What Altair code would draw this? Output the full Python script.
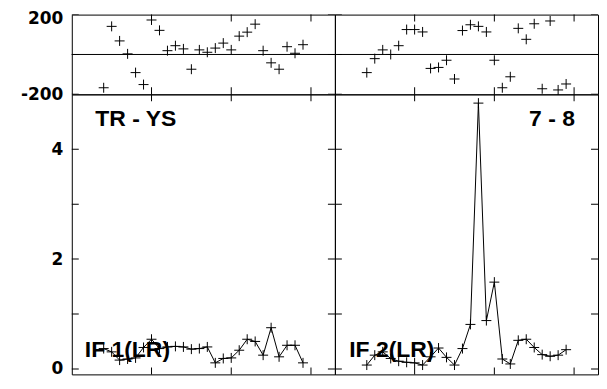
import altair as alt
import pandas as pd

# ---- data ----
channels = list(range(4, 30))

phase_tr_ys = [-167, 141, 68, 3, -91, -151, 173, 121, 19, 44, 28, -74, 23,
               11, 32, 57, 23, 92, 112, 152, 19, -42, -74, 39, 6, 49]
amp_tr_ys = [0.37, 0.31, 0.16, 0.18, 0.20, 0.39, 0.54, 0.37, 0.40, 0.41, 0.40,
             0.36, 0.37, 0.40, 0.11, 0.19, 0.20, 0.34, 0.54, 0.50, 0.25, 0.75,
             0.22, 0.43, 0.43, 0.11]

phase_7_8 = [-91, -21, 23, 0, 44, 125, 125, 113, -70, -65, -29, -123, 120,
             149, 141, 113, -29, -167, -112, 131, 76, 154, -172, 168, -178, -148]
amp_7_8 = [0.07, 0.25, 0.31, 0.19, 0.14, 0.12, 0.11, 0.07, 0.22, 0.38, 0.21,
           0.07, 0.37, 0.81, 4.84, 0.88, 1.58, 0.18, 0.09, 0.52, 0.54, 0.39,
           0.26, 0.23, 0.25, 0.35]

baseline_labels = ["TR - YS", "7 - 8"]
if_labels = ["IF 1(LR)", "IF 2(LR)"]

x_ticks = [10, 20, 30]
phase_ticks = [-200, 0, 200]
phase_labels = [-200, 200]
amp_ticks = [0, 1, 2, 3, 4]
amp_labels = [0, 2, 4]

# ---- layout constants ----
W = 264
H_TOP = 80
H_BOT = 281
X_DOM = [0, 33]
P_DOM = [-200, 200]
A_DOM = [-0.1, 5.0]
CROSS = "M-1,0L1,0M0,-1L0,1"
TICK = 7


def xscale():
    return alt.Scale(domain=X_DOM, nice=False, zero=False)


def label_axis(values, label_expr=None, label_offset=None):
    kw = dict(orient="left", values=values, title=None, domain=False,
              grid=False, ticks=False, labels=True,
              labelFont="DejaVu Sans", labelFontWeight="bold",
              labelFontSize=17, labelColor="black", labelPadding=9)
    if label_expr is not None:
        kw["labelExpr"] = label_expr
    if label_offset is not None:
        kw["labelOffset"] = label_offset
    return alt.Axis(**kw)


def edge_ticks(ycol, ysc, ydom, yvals):
    n = len(yvals)
    hdf = pd.DataFrame({"ch": [X_DOM[0]] * n + [X_DOM[1]] * n,
                        ycol: list(yvals) + list(yvals)})
    m = len(x_ticks)
    vdf = pd.DataFrame({"ch": list(x_ticks) + list(x_ticks),
                        ycol: [ydom[1]] * m + [ydom[0]] * m})
    h = alt.Chart(hdf).mark_tick(orient="horizontal", size=2 * TICK,
                                 thickness=1, color="black", opacity=1,
                                 clip=True).encode(
        x=alt.X("ch:Q", scale=xscale(), axis=None),
        y=alt.Y(f"{ycol}:Q", scale=ysc, axis=None))
    v = alt.Chart(vdf).mark_tick(orient="vertical", size=2 * TICK,
                                 thickness=1, color="black", opacity=1,
                                 clip=True).encode(
        x=alt.X("ch:Q", scale=xscale(), axis=None),
        y=alt.Y(f"{ycol}:Q", scale=ysc, axis=None))
    return [h, v]


def phase_panel(vals, show_labels):
    df = pd.DataFrame({"ch": channels, "phase": vals})
    ysc = alt.Scale(domain=P_DOM, nice=False, zero=False)
    zero = pd.DataFrame({"phase": [0]})
    if show_labels:
        yax = label_axis(phase_labels,
                         label_expr="(datum.value < 0 ? '-' : '') + abs(datum.value)",
                         label_offset={"condition": {"test": "datum.value == 200", "value": 4}, "value": 0})
    else:
        yax = None
    pts = alt.Chart(df).mark_point(shape=CROSS, size=100, filled=False,
                                   color="black", strokeWidth=1,
                                   opacity=1).encode(
        x=alt.X("ch:Q", scale=xscale(), axis=None),
        y=alt.Y("phase:Q", scale=ysc, axis=yax))
    rule = alt.Chart(zero).mark_rule(color="black", strokeWidth=1).encode(
        y=alt.Y("phase:Q", scale=ysc, axis=None))
    layers = [pts, rule] + edge_ticks("phase", ysc, P_DOM, phase_ticks)
    return alt.layer(*layers).resolve_axis(
        x="independent", y="independent").properties(width=W, height=H_TOP)


def amp_panel(vals, show_labels, title_txt, title_x, title_align, if_txt, if_x):
    df = pd.DataFrame({"ch": channels, "amp": vals})
    ysc = alt.Scale(domain=A_DOM, nice=False, zero=False)
    yax = label_axis(amp_labels) if show_labels else None
    t1 = alt.Chart(pd.DataFrame({"tx": [title_x], "ty": [4.43], "t": [title_txt]})).mark_text(
        font="Liberation Sans", fontWeight="bold", fontSize=23, color="black",
        align=title_align, baseline="alphabetic").encode(
        x=alt.X("tx:Q", scale=xscale(), axis=None),
        y=alt.Y("ty:Q", scale=ysc, axis=yax), text="t:N")
    t2 = alt.Chart(pd.DataFrame({"tx": [if_x], "ty": [0.21], "t": [if_txt]})).mark_text(
        font="Liberation Sans", fontWeight="bold", fontSize=23, color="black",
        align="left", baseline="alphabetic").encode(
        x=alt.X("tx:Q", scale=xscale(), axis=None),
        y=alt.Y("ty:Q", scale=ysc, axis=None), text="t:N")
    line = alt.Chart(df).mark_line(color="black", strokeWidth=1).encode(
        x=alt.X("ch:Q", scale=xscale(), axis=None),
        y=alt.Y("amp:Q", scale=ysc, axis=None))
    pts = alt.Chart(df).mark_point(shape=CROSS, size=100, filled=False,
                                   color="black", strokeWidth=1,
                                   opacity=1).encode(
        x=alt.X("ch:Q", scale=xscale(), axis=None),
        y=alt.Y("amp:Q", scale=ysc, axis=None))
    layers = [t1, t2, line, pts] + edge_ticks("amp", ysc, A_DOM, amp_ticks)
    return alt.layer(*layers).resolve_axis(
        x="independent", y="independent").properties(width=W, height=H_BOT)


tl = phase_panel(phase_tr_ys, True)
tr = phase_panel(phase_7_8, False)
bl = amp_panel(amp_tr_ys, True, baseline_labels[0], 2.95, "left", if_labels[0], 1.63)
br = amp_panel(amp_7_8, False, baseline_labels[1], 30.1, "right", if_labels[1], 1.8)

chart = alt.concat(tl, tr, bl, br, columns=2, spacing=0, bounds="flush").configure_view(
    stroke="black", strokeWidth=1).properties(
    padding={"left": 11, "top": 0, "right": 0, "bottom": 0},
    background="white")

chart.save("out.html", embed_options={"renderer": "svg", "actions": False})
